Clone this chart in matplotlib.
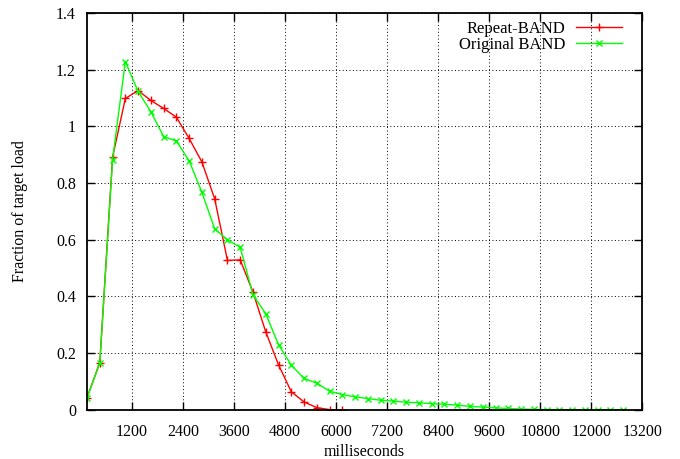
# -- Module import --
import numpy as np
from matplotlib import pyplot as plt

# -- data --
x_ms = [150 + 300 * k for k in range(43)]

repeat_band = [0.043, 0.167, 0.891, 1.098, 1.126, 1.091, 1.063, 1.032, 0.957, 0.874,
               0.744, 0.527, 0.529, 0.415, 0.275, 0.159, 0.064, 0.028, 0.008, 0.001,
               0.0]

original_band = [0.043, 0.165, 0.882, 1.228, 1.123, 1.051, 0.964, 0.948, 0.878, 0.767,
                 0.638, 0.600, 0.573, 0.406, 0.339, 0.230, 0.158, 0.111, 0.094, 0.066,
                 0.054, 0.046, 0.040, 0.034, 0.031, 0.027, 0.025, 0.022, 0.020, 0.017,
                 0.012, 0.010, 0.007, 0.005, 0.003, 0.002, 0.001, 0.001, 0.0005, 0.0003,
                 0.0002, 0.0001, 0.0001]

x_ticks = [1200, 2400, 3600, 4800, 6000, 7200, 8400, 9600, 10800, 12000, 13200]
y_ticks = [0, 0.2, 0.4, 0.6, 0.8, 1, 1.2, 1.4]
y_tick_labels = ['0', '0.2', '0.4', '0.6', '0.8', '1', '1.2', '1.4']

plt.rcParams['font.family'] = ['Liberation Serif', 'DejaVu Serif']
plt.rcParams['font.size'] = 11.5

fig = plt.figure(figsize=(6.8, 4.59), dpi=100)
ax = fig.add_axes([0.128, 0.107, 0.8166, 0.865])

ax.plot(x_ms[:len(repeat_band)], repeat_band, color='#ff0000', lw=1.0,
        marker='+', ms=6, mew=1.0, label='Repeat-BAND')
ax.plot(x_ms[:len(original_band)], original_band, color='#00ff00', lw=1.0,
        marker='x', ms=5, mew=1.0, label='Original BAND')

ax.set_xlim(150, 13200)
ax.set_ylim(0, 1.4)
ax.set_xticks(x_ticks)
ax.set_yticks(y_ticks)
ax.set_yticklabels(y_tick_labels)

# gnuplot look: ticks inside on all sides, dotted grid
ax.tick_params(direction='in', length=6, width=1.0, top=True, right=True)
ax.tick_params(axis='x', pad=10)
ax.tick_params(axis='y', pad=8)
ax.grid(True, color='black', linestyle=(0, (1, 2.5)), linewidth=0.7)
for sp in ax.spines.values():
    sp.set_linewidth(1.3)

ax.set_xlabel('milliseconds', labelpad=3)
ax.set_ylabel('Fraction of target load', labelpad=20)

ax.legend(loc='upper right', bbox_to_anchor=(0.985, 1.01), frameon=False,
          markerfirst=False, handlelength=2.75, handletextpad=0.65,
          labelspacing=0.02, borderpad=0.2, fontsize=12)

plt.savefig('out.png', dpi=100)
plt.close()
